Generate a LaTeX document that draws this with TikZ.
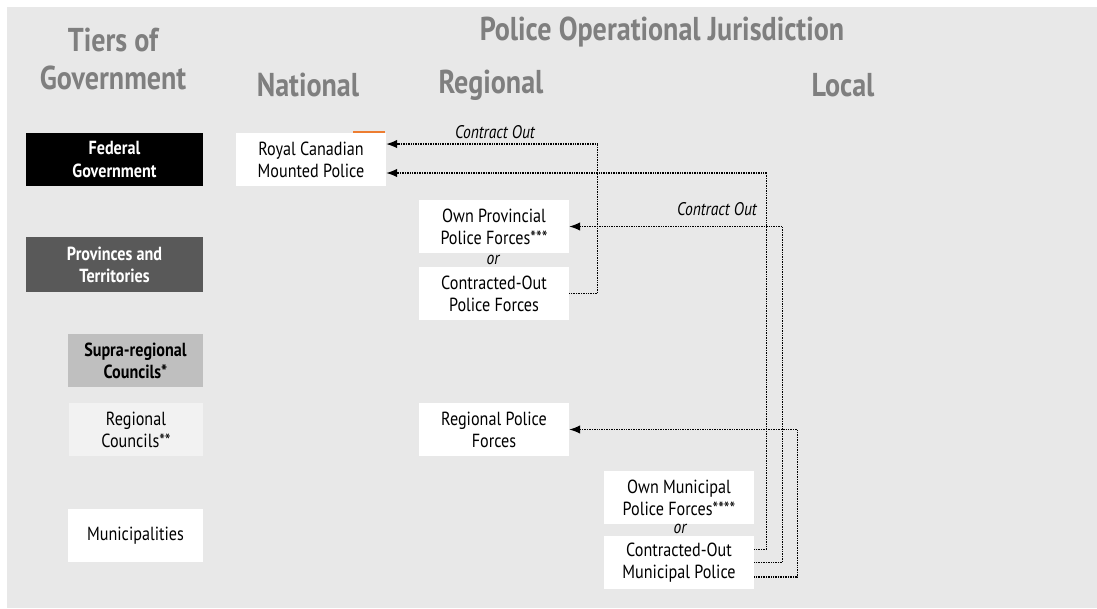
\documentclass[tikz,border=0pt]{standalone}
\usepackage{fontspec}
\setmainfont{PT Sans}[FakeStretch=0.85]
\usetikzlibrary{arrows.meta}

\definecolor{fundo}{HTML}{E8E8E8}
\definecolor{cinzatitulo}{HTML}{7F7F7F}
\definecolor{cinzaescuro}{HTML}{595959}
\definecolor{cinzamedio}{HTML}{BFBFBF}
\definecolor{cinzaclaro}{HTML}{F2F2F2}
\definecolor{laranja}{HTML}{ED7D31}

\tikzset{
  titulo/.style={text=cinzatitulo, font=\bfseries\fontsize{23.5}{27.5}\selectfont, align=center},
  caixa/.style={fill=white, minimum width=3.75cm, minimum height=1.325cm, inner sep=0pt, align=center, font=\fontsize{13.5}{15.8}\selectfont},
  nivel/.style={caixa, minimum width=4.425cm},
  rotulo/.style={font=\itshape\fontsize{13}{15}\selectfont, inner sep=0pt},
  contrato/.style={dash pattern=on 0.6pt off 0.6pt, line width=0.8pt, -{Latex[length=2.7mm,width=2.1mm]}},
}

\begin{document}
\begin{tikzpicture}[x=0.025cm, y=-0.025cm]
        % Fundo
        \useasboundingbox (0,0) rectangle (1097,608);
        \fill[fundo] (7,7) rectangle (1097,608);

        % Titulos
        \node[titulo] (tiers) at (113,59) {Tiers of\\Government};
        \node[titulo] (jurisd) at (662,32) {Police Operational Jurisdiction};
        \node[titulo] (national) at (308,85) {National};
        \node[titulo] (regional) at (491,85) {Regional};
        \node[titulo] (local) at (843,85) {Local};

        % Niveis de governo
        \node[nivel, fill=black, text=white, font=\bfseries\fontsize{13.5}{15.8}\selectfont] (federal) at (114.5,159.5) {Federal\\Government};
        \node[nivel, fill=cinzaescuro, text=white, font=\bfseries\fontsize{13.5}{15.8}\selectfont, minimum height=1.375cm] (prov) at (114.5,264.5) {Provinces and\\Territories};
        \node[caixa, fill=cinzamedio, minimum width=3.375cm, font=\bfseries\fontsize{13.5}{15.8}\selectfont] (supra) at (135.5,360.5) {Supra-regional\\Councils*};
        \node[caixa, fill=cinzaclaro, minimum width=3.35cm] (regcouncils) at (136,429.5) {Regional\\Councils**};
        \node[caixa, minimum width=3.375cm] (muni) at (135.5,535.5) {Municipalities};

        % Forcas policiais
        \node[caixa] (rcmp) at (311,159.5) {Royal Canadian\\Mounted Police};
        \draw[laranja, thick] (353,132) -- (385,132);
        \node[caixa] (ownprov) at (494,226.5) {Own Provincial\\Police Forces***};
        \node[rotulo] (orprov) at (493,260) {or};
        \node[caixa] (coprov) at (494,293.5) {Contracted-Out\\Police Forces};
        \node[caixa] (regpol) at (494,429.5) {Regional Police\\Forces};
        \node[caixa] (ownmun) at (679,497.5) {Own Municipal\\Police Forces****};
        \node[rotulo] (ormun) at (680,529) {or};
        \node[caixa] (comun) at (679,562.5) {Contracted-Out\\Municipal Police};

        % Contratos
        \draw[contrato] (coprov.east) -- ++(28,0) |- ([yshift=11pt]rcmp.east);
        \draw[contrato] ([yshift=9pt]comun.east) -- ++(12,0) |- ([yshift=-9.6pt]rcmp.east);
        \draw[contrato] (comun.east) -- ++(28,0) |- (ownprov.east);
        \draw[contrato] ([yshift=-10.3pt]comun.east) -- ++(43,0) |- (regpol.east);

        % Rotulos dos contratos
        \node[rotulo] (contr1) at (495,132) {Contract Out};
        \node[rotulo] (contr2) at (717,209) {Contract Out};
    \end{tikzpicture}
\end{document}
